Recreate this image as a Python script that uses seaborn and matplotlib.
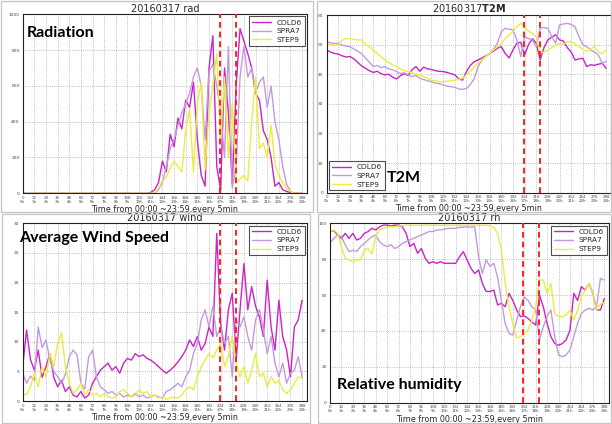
import matplotlib
matplotlib.use("Agg")
import matplotlib.pyplot as plt
import pandas as pd
import seaborn as sns
from matplotlib.patches import Rectangle

# sample times (index of 5-minute step), one value every 20 minutes
steps = list(range(0, 289, 4))
stations = ["COLD6", "SPRA7", "STEP9"]

# ---- radiation (W/m2) ----
rad_cold6 = [0] * 33 + [5, 20, 60, 180, 120, 330, 260, 420, 360, 520,
                        480, 620, 300, 100, 40, 700, 880, 150, 20, 700,
                        450, 50, 600, 920, 850, 780, 700, 560, 520, 350,
                        300, 200, 40, 60, 20, 10, 5, 0, 0, 0]
rad_spra7 = [0] * 35 + [20, 60, 150, 250, 300, 380, 450, 500, 560, 650,
                        700, 600, 300, 680, 720, 600, 450, 200, 820, 30,
                        150, 650, 820, 650, 700, 560, 620, 650, 480, 600,
                        400, 300, 150, 50, 10, 0, 0, 0]
rad_step9 = [0] * 35 + [30, 70, 90, 140, 180, 150, 120, 350, 470, 120,
                        500, 620, 130, 450, 600, 780, 300, 650, 200, 500,
                        60, 80, 100, 70, 400, 650, 250, 280, 200, 380,
                        160, 100, 60, 30, 10, 0, 0, 0]

# ---- 2 m temperature ----
t2m_cold6 = [48.2, 47.5, 47.0, 46.8, 46.2, 45.8, 46.0, 45.2, 44.0, 42.8,
             42.0, 41.2, 40.6, 41.0, 40.2, 39.8, 40.0, 39.0, 38.4, 39.5,
             40.2, 39.6, 41.5, 42.6, 41.0, 42.4, 41.8, 41.6, 41.2, 41.0,
             40.9, 40.6, 40.2, 39.8, 38.5, 38.0, 40.8, 43.0, 44.2, 44.8,
             45.5, 46.2, 47.0, 47.8, 48.8, 49.3, 47.0, 45.5, 48.2, 50.5,
             50.8, 46.5, 50.0, 52.0, 50.5, 44.8, 49.0, 51.6, 52.5, 53.3,
             51.6, 51.2, 49.0, 47.5, 44.8, 45.2, 45.4, 42.6, 43.2, 43.0,
             43.4, 43.7, 42.0]
t2m_spra7 = [51.0, 50.6, 50.4, 50.4, 49.8, 49.5, 49.3, 48.5, 47.8, 47.0,
             45.5, 44.0, 42.6, 43.0, 42.2, 42.6, 41.8, 41.5, 40.9, 40.2,
             40.5, 39.8, 39.2, 39.6, 38.6, 38.2, 37.8, 37.5, 37.0, 36.8,
             36.4, 36.0, 35.8, 35.6, 35.0, 34.9, 35.2, 36.5, 38.5, 42.6,
             44.8, 46.0, 47.0, 48.5, 50.5, 54.4, 55.5, 55.2, 55.0, 51.6,
             46.0, 52.7, 52.0, 51.6, 49.3, 55.5, 55.8, 55.5, 52.7, 50.5,
             56.6, 57.0, 57.2, 56.8, 56.0, 52.7, 50.0, 49.3, 48.2, 47.5,
             46.5, 43.7, 44.3]
t2m_step9 = [50.4, 50.0, 49.9, 49.9, 51.5, 52.0, 52.0, 51.8, 51.6, 51.6,
             50.0, 49.3, 48.2, 47.0, 46.0, 44.8, 44.0, 43.2, 42.6, 41.8,
             41.2, 40.9, 40.5, 40.0, 39.8, 39.2, 38.6, 38.0, 37.8, 37.5,
             37.5, 37.6, 37.8, 38.0, 38.3, 38.6, 39.8, 40.9, 42.5, 43.7,
             44.8, 46.0, 47.0, 48.2, 49.3, 50.4, 52.0, 53.3, 54.5, 56.0,
             57.2, 56.0, 54.5, 53.8, 52.7, 47.0, 47.5, 48.2, 49.0, 49.8,
             50.4, 50.2, 51.0, 51.0, 50.2, 49.3, 48.5, 47.6, 48.5, 49.3,
             47.5, 47.0, 48.2]

# ---- average wind speed ----
wind_cold6 = [5.8, 12.0, 7.0, 5.2, 8.6, 4.0, 5.8, 8.0, 4.0, 2.4,
              3.5, 1.6, 2.4, 1.0, 0.7, 1.6, 0.5, 1.0, 3.0, 4.1,
              5.2, 5.8, 6.4, 5.2, 5.8, 4.7, 6.4, 7.2, 6.9, 8.0,
              7.5, 7.8, 7.2, 6.9, 6.4, 5.8, 5.2, 4.7, 5.2, 5.8,
              6.6, 7.5, 8.6, 10.3, 9.2, 10.9, 8.6, 9.7, 12.5, 10.9,
              28.3, 13.1, 8.6, 15.4, 18.2, 6.9, 15.4, 23.2, 15.4, 19.3,
              16.0, 14.2, 10.9, 20.4, 12.5, 8.6, 17.0, 10.9, 8.6, 4.1,
              12.5, 13.7, 17.0]
wind_spra7 = [4.7, 3.0, 4.2, 3.5, 12.5, 9.0, 10.3, 7.0, 5.0, 4.1,
              3.0, 4.5, 7.5, 8.6, 7.8, 3.0, 2.0, 7.5, 8.6, 4.0,
              2.4, 1.9, 1.3, 1.6, 1.0, 1.3, 0.7, 1.0, 0.7, 1.3,
              0.7, 1.0, 0.5, 0.7, 1.0, 0.7, 0.5, 1.6, 1.9, 2.4,
              3.0, 2.4, 4.1, 5.2, 8.0, 9.7, 13.7, 15.4, 12.5, 16.0,
              10.9, 12.5, 9.7, 10.9, 4.1, 13.7, 12.5, 14.2, 10.9, 8.6,
              13.7, 15.4, 12.0, 8.0, 10.9, 6.4, 4.1, 6.4, 3.0, 4.7,
              5.2, 7.5, 4.0]
wind_step9 = [1.3, 1.0, 2.4, 4.7, 2.4, 5.8, 4.1, 8.0, 5.8, 9.7,
              11.5, 5.8, 3.0, 1.3, 1.9, 3.0, 1.0, 1.9, 1.0, 1.3,
              0.7, 1.3, 0.7, 0.5, 0.7, 1.6, 1.9, 1.3, 0.7, 1.0,
              1.9, 1.3, 1.6, 0.7, 1.0, 0.5, 0.7, 0.3, 0.5, 0.7,
              0.5, 1.0, 1.9, 2.4, 1.9, 4.1, 5.8, 6.9, 8.0, 7.3,
              8.6, 9.7, 5.8, 7.5, 11.0, 6.4, 4.1, 5.8, 3.0, 5.2,
              8.0, 4.1, 4.7, 2.4, 4.1, 3.0, 3.5, 1.9, 1.3, 1.9,
              3.0, 4.1, 3.8]

# ---- relative humidity (%) ----
rh_cold6 = [95.4, 96.0, 93.5, 91.6, 94.4, 91.6, 94.4, 90.7, 91.6, 94.4,
            95.4, 97.2, 96.3, 98.0, 99.0, 99.0, 98.5, 99.0, 99.0, 98.0,
            94.4, 87.0, 88.8, 83.3, 86.0, 80.5, 77.7, 78.6, 77.7, 78.6,
            77.7, 77.7, 77.7, 77.7, 81.4, 84.2, 79.6, 75.0, 72.0, 74.0,
            66.5, 62.0, 62.0, 62.8, 54.5, 55.4, 53.5, 61.0, 57.0, 51.7,
            48.0, 48.4, 47.0, 45.0, 43.3, 60.0, 53.5, 44.2, 36.8, 33.0,
            32.0, 33.0, 35.0, 40.5, 61.0, 57.0, 64.7, 62.8, 66.5, 61.0,
            51.7, 51.7, 58.0]
rh_spra7 = [88.8, 91.6, 93.5, 92.6, 88.0, 84.2, 85.0, 84.2, 87.0, 88.8,
            90.7, 92.6, 93.5, 89.8, 88.0, 87.0, 88.0, 86.0, 87.0, 88.8,
            89.8, 90.7, 91.6, 92.6, 93.5, 94.4, 95.4, 95.4, 96.3, 96.3,
            96.7, 97.2, 97.2, 97.2, 97.8, 97.8, 98.1, 97.8, 98.1, 81.4,
            72.0, 79.6, 76.0, 77.7, 70.0, 57.0, 44.0, 38.7, 37.7, 46.0,
            53.5, 59.0, 57.0, 53.5, 51.7, 35.0, 42.4, 48.0, 51.7, 36.8,
            26.6, 25.6, 26.6, 29.4, 36.8, 44.2, 49.8, 51.7, 52.6, 51.7,
            53.5, 69.3, 68.4]
rh_step9 = [95.4, 96.3, 94.4, 87.0, 80.5, 79.6, 78.6, 79.6, 79.6, 85.0,
            86.0, 83.0, 92.6, 96.3, 97.2, 97.8, 98.1, 98.1, 98.5, 98.7,
            98.9, 98.9, 98.9, 98.9, 98.9, 98.9, 98.9, 98.9, 98.9, 98.9,
            98.9, 98.9, 98.9, 98.9, 98.9, 98.9, 98.9, 98.9, 98.9, 98.9,
            98.9, 98.9, 98.5, 97.8, 94.4, 85.0, 66.5, 53.5, 44.2, 35.9,
            36.8, 38.7, 40.5, 46.0, 53.5, 68.4, 68.4, 61.0, 66.5, 49.8,
            48.0, 48.0, 49.0, 51.7, 46.0, 51.7, 59.0, 62.8, 66.5, 61.0,
            51.7, 55.0, 56.0]

# event markers (5-minute step index)
event_steps = [203, 220]

xtick_values = list(range(0, 289, 12))
xtick_labels = [f"{v}\n{v // 12}h" for v in xtick_values]

panels = [
    dict(name="rad", series=[rad_cold6, rad_spra7, rad_step9],
         title="20160317 rad", ymax=1000, ystep=200,
         pos=[0.0371, 0.5441, 0.4645, 0.4222], legend="upper right",
         xlab_y=-0.064, tag="Radiation", tagxy=(27, 26)),
    dict(name="T2M", series=[t2m_cold6, t2m_spra7, t2m_step9],
         title=r"20160317$\mathbf{T2M}$", ymax=60, ystep=10,
         pos=[0.5338, 0.5455, 0.4645, 0.4191], legend="lower left",
         xlab_y=-0.064, tag="T2M", tagxy=(387, 171)),
    dict(name="wind", series=[wind_cold6, wind_spra7, wind_step9],
         title="20160317 wind", ymax=30, ystep=5,
         pos=[0.0371, 0.0542, 0.4645, 0.4191], legend="upper right",
         xlab_y=-0.068, tag="Average Wind Speed", tagxy=(19, 231)),
    dict(name="rh", series=[rh_cold6, rh_spra7, rh_step9],
         title="20160317 rh", ymax=100, ystep=20,
         pos=[0.5392, 0.0502, 0.4559, 0.4231], legend="upper right",
         xlab_y=-0.066, tag="Relative humidity", tagxy=(337, 378)),
]

palette = {"COLD6": "#c824c8", "SPRA7": "#c39ade", "STEP9": "#ecec3e"}

sns.set_style("white")
plt.rcParams["font.family"] = ["DejaVu Sans"]

W, H = 612, 424
fig = plt.figure(figsize=(W / 100, H / 100), dpi=100)

# screenshot frames
for (x0, y0, x1, y1) in [(1, 1, 313, 212), (317, 1, 611, 212),
                         (2, 214, 310, 423), (318, 214, 611, 423)]:
    fig.add_artist(Rectangle((x0 / W, 1 - y1 / H), (x1 - x0) / W, (y1 - y0) / H,
                             transform=fig.transFigure, fill=False,
                             ec="#c4c4c4", lw=0.9))

for p in panels:
    ax = fig.add_axes(p["pos"])
    frames = []
    for st, vals in zip(stations, p["series"]):
        frames.append(pd.DataFrame({"step": steps, "value": vals, "station": st}))
    df = pd.concat(frames, ignore_index=True)
    sns.lineplot(data=df, x="step", y="value", hue="station",
                 palette=palette, linewidth=1.0, ax=ax, legend=True)
    for xv in event_steps:
        ax.axvline(xv, color="#ff2020", ls=(0, (3, 2)), lw=1.4, zorder=5)

    ax.set_xlim(0, 293)
    ax.set_ylim(0, p["ymax"])
    ax.set_xticks(xtick_values)
    ax.set_xticklabels(xtick_labels, fontsize=2.9, color="#444444", linespacing=0.95)
    ax.set_yticks(list(range(0, p["ymax"] + 1, p["ystep"])))
    ax.tick_params(axis="y", labelsize=3.2, labelcolor="#444444", pad=1)
    ax.tick_params(axis="x", pad=0.6)
    ax.tick_params(length=1.3, width=0.4)
    ax.grid(True, ls=":", lw=0.6, color="#a8a8a8")
    for s in ax.spines.values():
        s.set_color("#222222")
        s.set_linewidth(0.8)
    ax.set_title(p["title"], fontsize=7, pad=2)
    ax.set_xlabel("Time from 00:00 ~23:59,every 5min", fontsize=5.8)
    ax.xaxis.set_label_coords(0.5, p["xlab_y"])
    ax.set_ylabel("")

    handles, labels = ax.get_legend_handles_labels()
    leg = ax.legend(handles, labels, loc=p["legend"], fontsize=5.3,
                    frameon=True, fancybox=False, edgecolor="#222222",
                    handlelength=2.6, borderaxespad=0.3, labelspacing=0.35,
                    borderpad=0.4)
    leg.get_frame().set_linewidth(0.8)

    tx, ty = p["tagxy"]
    fig.text(tx / W, 1 - ty / H, p["tag"], fontsize=11.5, fontweight="bold",
             family=["Lato", "DejaVu Sans"], ha="left", va="top", color="black")

fig.savefig("out.png", dpi=100)
